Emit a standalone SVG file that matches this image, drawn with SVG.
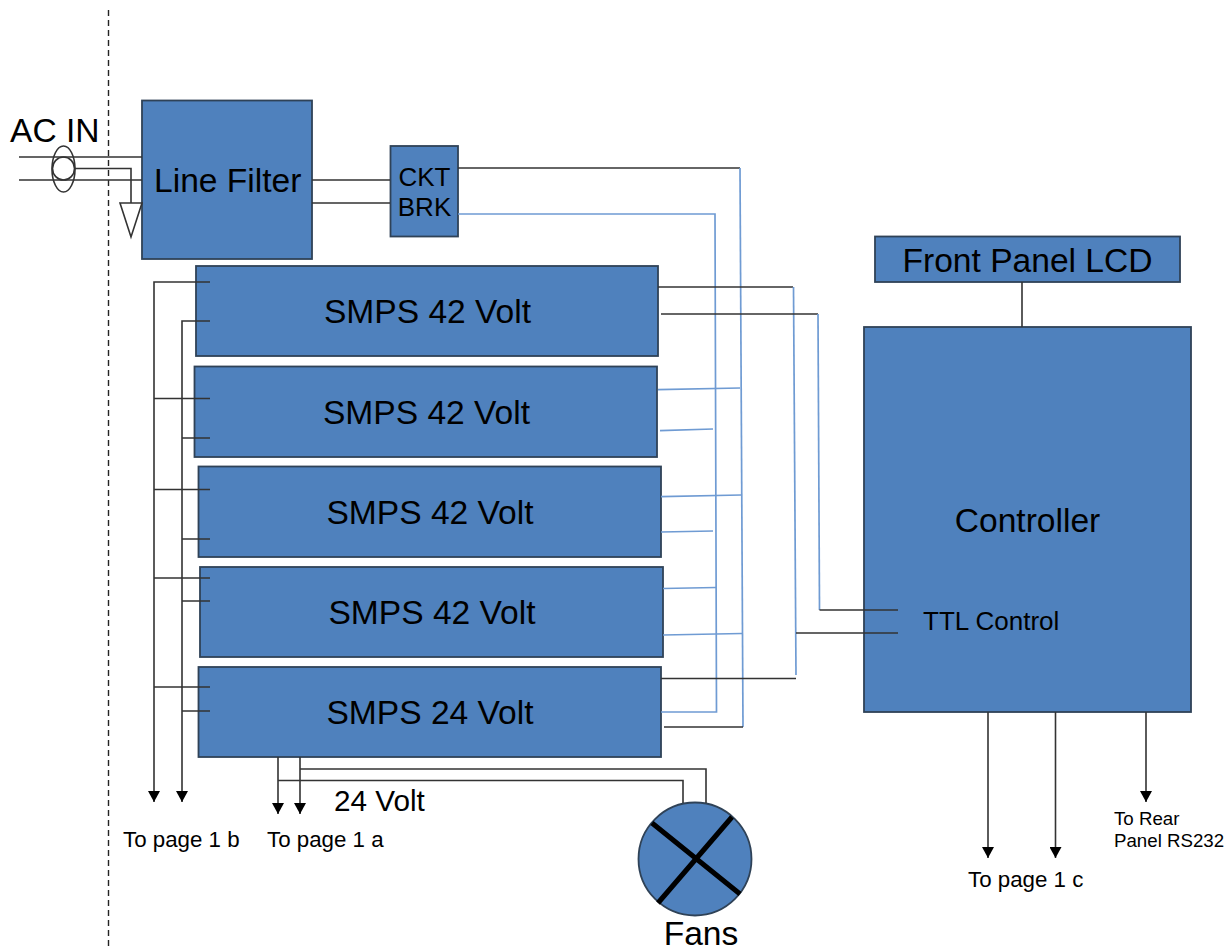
<svg xmlns="http://www.w3.org/2000/svg" width="1228" height="950" viewBox="0 0 1228 950">
<style>
text{font-family:"Liberation Sans",Arial,sans-serif;fill:#000}
.box{fill:#4f81bd;stroke:#2f4257;stroke-width:1.8}
.k{fill:none;stroke:#333;stroke-width:1.6}
.b{fill:none;stroke:#6f9bd3;stroke-width:1.7}
.a{marker-end:url(#arrow)}
.m{text-anchor:middle}
.f33{font-size:33.6px}
.f26{font-size:26px}
.f22{font-size:22.3px}
.f19{font-size:18.7px}
</style>
<defs>
<marker id="arrow" markerUnits="userSpaceOnUse" markerWidth="12" markerHeight="12" refX="11" refY="6" orient="auto">
<path d="M0,0L11,6L0,12Z" fill="#000"/>
</marker>
</defs>
<g id="boundary"><line x1="108.5" y1="10" x2="108.5" y2="950" stroke="#222" stroke-width="1.4" stroke-dasharray="6 4"/></g>
<g id="line-filter"><rect class="box" x="142" y="100.5" width="170" height="158.500"/><text class="f33" x="154" y="192">Line Filter</text></g>
<g id="ckt-brk"><rect class="box" x="390.500" y="146" width="67.500" height="90.500"/><text class="f26 m" x="424.500" y="186">CKT</text><text class="f26 m" x="424.500" y="216">BRK</text></g>
<g id="smps1"><rect class="box" x="196" y="266" width="462" height="90"/><text class="f33 m" x="427.500" y="323">SMPS 42 Volt</text></g>
<g id="smps2"><rect class="box" x="194.500" y="366.500" width="462.500" height="90.500"/><text class="f33 m" x="426.500" y="424">SMPS 42 Volt</text></g>
<g id="smps3"><rect class="box" x="198.500" y="466.500" width="462.500" height="90.500"/><text class="f33 m" x="430" y="524">SMPS 42 Volt</text></g>
<g id="smps4"><rect class="box" x="200" y="567" width="463" height="90"/><text class="f33 m" x="432" y="624">SMPS 42 Volt</text></g>
<g id="smps5"><rect class="box" x="198.500" y="667" width="462.500" height="90"/><text class="f33 m" x="430" y="724">SMPS 24 Volt</text></g>
<g id="front-panel"><rect class="box" x="875" y="236.500" width="305" height="45.500"/><text class="f33 m" x="1027.500" y="272">Front Panel LCD</text></g>
<g id="controller"><rect class="box" x="864" y="327" width="327" height="385"/><text class="f33 m" x="1027.500" y="532">Controller</text><text class="f26" x="923" y="630">TTL Control</text></g>
<g id="fans"><circle class="box" cx="695" cy="859" r="56.500"/><path d="M652,823L740,894M732,817L658,903" fill="none" stroke="#000" stroke-width="5"/><text class="f33 m" x="701" y="945">Fans</text></g>
<g id="connectors">
<g id="ac-in-wiring">
<path class="k" d="M19,157H142M19,180H142"/>
<ellipse class="k" cx="63.500" cy="169" rx="11.500" ry="23"/>
<ellipse class="k" cx="63.500" cy="168.500" rx="11" ry="11.500"/>
<path class="k" d="M75,168.500H131V203"/>
<path class="k" d="M120,203H142L131,237Z"/>
<path class="k" d="M312,180H390M312,203H390"/>
</g>
<g id="dc-feeds">
<path class="k" d="M458,168H740"/>
<path class="b" d="M740,168L743,727"/>
<path class="k" d="M664,727H743"/>
<path class="b" d="M458,214H715L716.500,712H661"/>
<path class="b" d="M658,389.700L740,388M660,430.700L713,429M661,496.700L741,495M661,532L713,531M663,588.500L716,587.500M663,635L742,633.500"/>
</g>
<g id="ttl-control">
<path class="k" d="M658,287H793"/>
<path class="b" d="M793.500,287L796,675"/>
<path class="k" d="M661,314H818"/>
<path class="b" d="M818,314L819.500,610"/>
<path class="k" d="M819.500,610H898M796,633H898M661,678.500H796"/>
<path class="k" d="M1022,282V327"/>
</g>
<g id="output-bus">
<path class="k a" d="M210,282H154V802"/>
<path class="k a" d="M210,321H182V802"/>
<path class="k" d="M154,398.500H210M182,438H210M154,489.500H210M182,539H210M154,578H210M182,601H210M154,687H210M182,711H210"/>
<path class="k a" d="M278,757V814"/>
<path class="k a" d="M300,757V814"/>
<path class="k" d="M300,769H706V803M278,780.500H683V803"/>
<path class="k a" d="M988,712V858"/>
<path class="k a" d="M1055.500,712V858"/>
<path class="k a" d="M1146,712V802"/>
</g>
</g>
<g id="labels">
<text class="f33" x="10" y="142">AC IN</text>
<text x="334" y="811" font-size="29.700">24 Volt</text>
<text class="f22" x="123" y="847">To page 1 b</text>
<text class="f22" x="267" y="847">To page 1 a</text>
<text class="f22" x="968" y="887">To page 1 c</text>
<text class="f19" x="1114" y="825">To Rear</text>
<text class="f19" x="1114" y="847">Panel RS232</text>
</g>
</svg>
